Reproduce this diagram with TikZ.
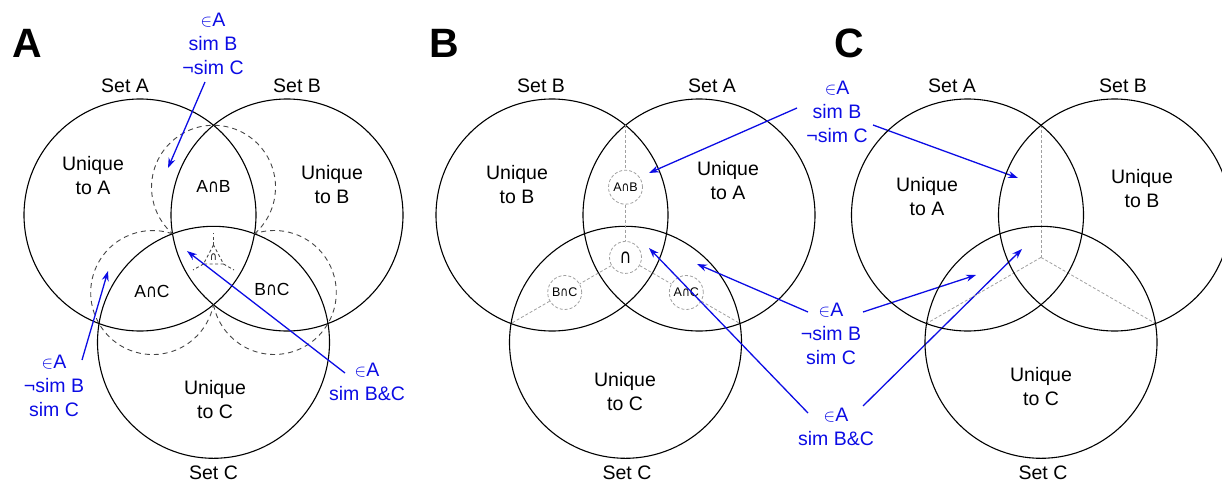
\documentclass[tikz,border=0pt]{standalone}
\usepackage{fontspec}
\setmainfont{Liberation Sans}
\newfontfamily\djv{DejaVu Sans}
\usetikzlibrary{arrows.meta}
\definecolor{ablue}{RGB}{12,12,228}
\definecolor{dgray}{RGB}{70,70,70}
\definecolor{lgray}{RGB}{160,160,160}
\newcommand{\elt}{{\fontsize{17}{17}\selectfont$\in$}}
\newcommand{\capc}{{\djv\scalebox{0.85}[1.05]{∩}}}
\begin{document}
\begin{tikzpicture}[x=1pt,y=-1pt,
  setc/.style={draw=black,line width=1.1pt},
  dcirc/.style={draw=dgray,line width=0.9pt,dash pattern=on 5pt off 4pt},
  gdash/.style={draw=lgray,line width=0.8pt,dash pattern=on 3pt off 2pt},
  scirc/.style={circle,draw=lgray,line width=0.8pt,dash pattern=on 3pt off 2pt,inner sep=0pt,minimum size=34pt,font=\fontsize{12.5}{14}\selectfont},
  lab/.style={font=\fontsize{19.5}{24}\selectfont,align=center,inner sep=0pt},
  ilab/.style={font=\fontsize{17.5}{20}\selectfont,inner sep=0pt},
  btxt/.style={font=\fontsize{19.5}{24}\selectfont,align=center,inner sep=0pt,text=ablue},
  barrow/.style={draw=ablue,line width=1.3pt,-{Stealth[length=10pt,width=7pt]}},
  plet/.style={font=\fontsize{41}{41}\selectfont\bfseries,inner sep=0pt}
]
\useasboundingbox (0,0) rectangle (1222,482);
\clip (0,0) rectangle (1222,482);

% ================= Panel A =================
\node[plet] (LA) at (27.5,43) {A};
\coordinate (cA1) at (140,215);
\coordinate (cB1) at (287,215);
\coordinate (cC1) at (213.5,342.3);
\draw[setc] (cA1) circle[radius=116];
\draw[setc] (cB1) circle[radius=116];
\draw[setc] (cC1) circle[radius=116];
% dashed lens circles
\draw[dcirc] (254.5,233.8) arc[start angle=48.63, end angle=-228.63, radius=62];
\draw[dcirc] (172.5,233.8) arc[start angle=-71.37, end angle=-348.63, radius=62];
\draw[dcirc] (213.5,304.7) arc[start angle=168.63, end angle=-108.63, radius=62];
% central mark
\node[inner sep=0pt,font=\fontsize{11}{11}\selectfont] (iA) at (213.5,257) {\capc};
\draw[dcirc,dash pattern=on 3pt off 2.5pt] (213.5,245) -- (203.5,264) -- (223.5,264) -- cycle;
\draw[dcirc,dash pattern=on 3pt off 2.5pt] (213.5,245) -- (213.5,233);
\draw[dcirc,dash pattern=on 3pt off 2.5pt] (203.5,264) -- (193,270);
\draw[dcirc,dash pattern=on 3pt off 2.5pt] (223.5,264) -- (234,270);

\node[lab] (sA1) at (125,86) {Set A};
\node[lab] (sB1) at (297,86) {Set B};
\node[lab] (sC1) at (213.5,473) {Set C};
\node[lab] (uA1) at (93,176) {Unique\\to A};
\node[lab] (uB1) at (332,185) {Unique\\to B};
\node[lab] (uC1) at (215,400) {Unique\\to C};
\node[ilab] (ab1) at (213.5,186) {A\capc B};
\node[ilab] (ac1) at (152,291) {A\capc C};
\node[ilab] (bc1) at (272,289) {B\capc C};

\node[btxt] (t1) at (213,44) {\elt A\\sim B\\¬sim C};
\node[btxt] (t2) at (54,386) {\elt A\\¬sim B\\sim C};
\node[btxt] (t3) at (367,382) {\elt A\\sim B\&C};
\coordinate (t1s) at (205,82);  \coordinate (t1e) at (168,168);
\coordinate (t2s) at (82,360);  \coordinate (t2e) at (108,271);
\coordinate (t3s) at (345,373); \coordinate (t3e) at (187,251);
\draw[barrow] (t1s) -- (t1e);
\draw[barrow] (t2s) -- (t2e);
\draw[barrow] (t3s) -- (t3e);

% ================= Panel B =================
\node[plet] (LB) at (444,43) {B};
\coordinate (cB2) at (552,215);
\coordinate (cA2) at (699,215);
\coordinate (cC2) at (625.5,342.3);
\draw[setc] (cB2) circle[radius=116];
\draw[setc] (cA2) circle[radius=116];
\draw[setc] (cC2) circle[radius=116];
\node[scirc] (bAB) at (625.5,187.2) {A\capc B};
\node[scirc,minimum size=32pt,font=\fontsize{19}{19}\selectfont] (bI) at (625.5,257.4) {\capc};
\node[scirc] (bBC) at (564.7,292.5) {B\capc C};
\node[scirc] (bAC) at (686.3,292.5) {A\capc C};
\coordinate (bT) at (625.5,125.3);
\coordinate (bL) at (511,323.5);
\coordinate (bR) at (740,323.5);
\draw[gdash] (bT) -- (bAB);
\draw[gdash] (bAB) -- (bI);
\draw[gdash] (bI) -- (bBC);
\draw[gdash] (bBC) -- (bL);
\draw[gdash] (bI) -- (bAC);
\draw[gdash] (bAC) -- (bR);
\node[lab] (sB2) at (541,86) {Set B};
\node[lab] (sA2) at (712,86) {Set A};
\node[lab] (sC2) at (627,473) {Set C};
\node[lab] (uB2) at (517,185) {Unique\\to B};
\node[lab] (uA2) at (728,181) {Unique\\to A};
\node[lab] (uC2) at (625,392) {Unique\\to C};

% shared middle labels
\node[btxt] (m1) at (837,112) {\elt A\\sim B\\¬sim C};
\node[btxt] (m2) at (831,334) {\elt A\\¬sim B\\sim C};
\node[btxt] (m3) at (836,427) {\elt A\\sim B\&C};
\coordinate (m1l) at (797,108); \coordinate (m1lt) at (649,173);
\coordinate (m2l) at (808,312); \coordinate (m2lt) at (697,264);
\coordinate (m3l) at (808,413); \coordinate (m3lt) at (649,248);
\draw[barrow] (m1l) -- (m1lt);
\draw[barrow] (m2l) -- (m2lt);
\draw[barrow] (m3l) -- (m3lt);
\coordinate (m1r) at (873,125); \coordinate (m1rt) at (1018,178);
\coordinate (m2r) at (863,312); \coordinate (m2rt) at (976,275);
\coordinate (m3r) at (863,406); \coordinate (m3rt) at (1022,249);
\draw[barrow] (m1r) -- (m1rt);
\draw[barrow] (m2r) -- (m2rt);
\draw[barrow] (m3r) -- (m3rt);

% ================= Panel C =================
\node[plet] (LC) at (849,43) {C};
\coordinate (cA3) at (967.5,215);
\coordinate (cB3) at (1114.5,215);
\coordinate (cC3) at (1041,342.3);
\coordinate (gC) at (1041,257.4);
\coordinate (cT) at (1041,125.3);
\coordinate (cL) at (926.5,323.5);
\coordinate (cR) at (1155.5,323.5);
\draw[gdash] (cT) -- (gC);
\draw[gdash] (gC) -- (cL);
\draw[gdash] (gC) -- (cR);
\draw[setc] (cA3) circle[radius=116];
\draw[setc] (cB3) circle[radius=116];
\draw[setc] (cC3) circle[radius=116];
\node[lab] (sA3) at (952,86) {Set A};
\node[lab] (sB3) at (1123,86) {Set B};
\node[lab] (sC3) at (1043,473) {Set C};
\node[lab] (uA3) at (927,197) {Unique\\to A};
\node[lab] (uB3) at (1142,189) {Unique\\to B};
\node[lab] (uC3) at (1041,387) {Unique\\to C};
\end{tikzpicture}
\end{document}
